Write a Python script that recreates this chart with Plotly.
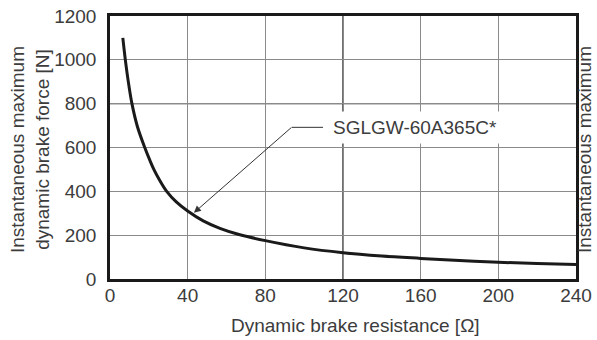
import plotly.graph_objects as go

# Data
resistance = [6.6, 7.9, 9.5, 11.3, 14.1, 17.9, 20.6, 22.7, 25.5, 29.2, 34, 40, 48, 56.6,
              66, 80, 100, 120, 140, 160, 180, 200, 220, 240]
force = [1100, 1000, 896, 800, 696, 600, 540, 498, 452, 400, 353, 310, 265, 231,
         204, 175, 142, 120, 105, 94, 84, 76, 71, 66]

x_ticks = [0, 40, 80, 120, 160, 200, 240]
y_ticks = [0, 200, 400, 600, 800, 1000, 1200]

label_text = "SGLGW-60A365C*"
arrow_tip = (43.2, 302)
elbow = (93.5, 692)
line_end_x = 109.7
label_x = 112.0

FONT = "Liberation Sans, Arial, sans-serif"
TXT = "#3c3c3c"

fig = go.Figure()
fig.add_trace(go.Scatter(
    x=resistance, y=force, mode="lines",
    line=dict(color="#1a1a1a", width=3, shape="spline", smoothing=1.0),
    hoverinfo="skip", showlegend=False,
))

fig.update_layout(
    width=597, height=340,
    margin=dict(l=110, r=21, t=16, b=61),
    paper_bgcolor="white", plot_bgcolor="white",
    font=dict(family=FONT, size=19, color=TXT),
    xaxis=dict(range=[0, 240], tickvals=x_ticks, showgrid=True, gridcolor="#8a8a8a",
               gridwidth=1.3, showline=True, linecolor="#1a1a1a", linewidth=2.5,
               mirror=True, ticks="", zeroline=False, ticklabelstandoff=-3,
               automargin=False, tickfont=dict(size=19, color=TXT)),
    yaxis=dict(range=[0, 1200], tickvals=y_ticks, showgrid=True, gridcolor="#8a8a8a",
               gridwidth=1.3, showline=True, linecolor="#1a1a1a", linewidth=2.5,
               mirror=True, ticks="", zeroline=False, ticklabelstandoff=7,
               automargin=False, tickfont=dict(size=19, color=TXT)),
)

# darker grid lines
fig.add_shape(type="line", xref="x", yref="y", x0=120, x1=120, y0=0, y1=1200,
              line=dict(color="#222222", width=1.3), layer="below")
fig.add_shape(type="line", xref="x", yref="y", x0=0, x1=240, y0=800, y1=800,
              line=dict(color="#222222", width=1.3), layer="below")

# leader line: horizontal segment
fig.add_shape(type="line", xref="x", yref="y", x0=elbow[0], x1=line_end_x,
              y0=elbow[1], y1=elbow[1], line=dict(color="#333333", width=1))

# arrow
fig.add_annotation(x=arrow_tip[0], y=arrow_tip[1], xref="x", yref="y",
                   ax=elbow[0], ay=elbow[1], axref="x", ayref="y",
                   text=" ", font=dict(size=1), showarrow=True,
                   arrowhead=2, arrowsize=1.4, arrowwidth=1, arrowcolor="#333333",
                   borderpad=0)

# label
fig.add_annotation(x=label_x, y=elbow[1], xref="x", yref="y", text=label_text,
                   showarrow=False, xanchor="left", yanchor="middle",
                   bgcolor="white", borderpad=5, font=dict(size=19, color=TXT))

# axis titles
fig.add_annotation(x=(30 - 110) / 466, y=(279 - 150) / 263, xref="paper", yref="paper",
                   text="Instantaneous maximum<br>dynamic brake force [N]",
                   textangle=-90, showarrow=False, xanchor="center", yanchor="middle",
                   font=dict(size=19, color=TXT))
fig.add_annotation(x=(584 - 110) / 466, y=(279 - 150) / 263, xref="paper", yref="paper",
                   text="Instantaneous maximum",
                   textangle=-90, showarrow=False, xanchor="center", yanchor="middle",
                   font=dict(size=19, color=TXT))
fig.add_annotation(x=(355 - 110) / 466, y=(279 - 325) / 263, xref="paper", yref="paper",
                   text="Dynamic brake resistance [Ω]", showarrow=False,
                   xanchor="center", yanchor="middle", font=dict(size=19, color=TXT))

fig.write_html(
    "out.html",
    config={"displayModeBar": False},
    post_script=(
        "document.body.style.margin='0';document.body.style.overflow='hidden';"
        "var d=document.getElementById('{plot_id}');"
        "d.style.position='fixed';d.style.top='0px';d.style.left='0px';"
    ),
)
